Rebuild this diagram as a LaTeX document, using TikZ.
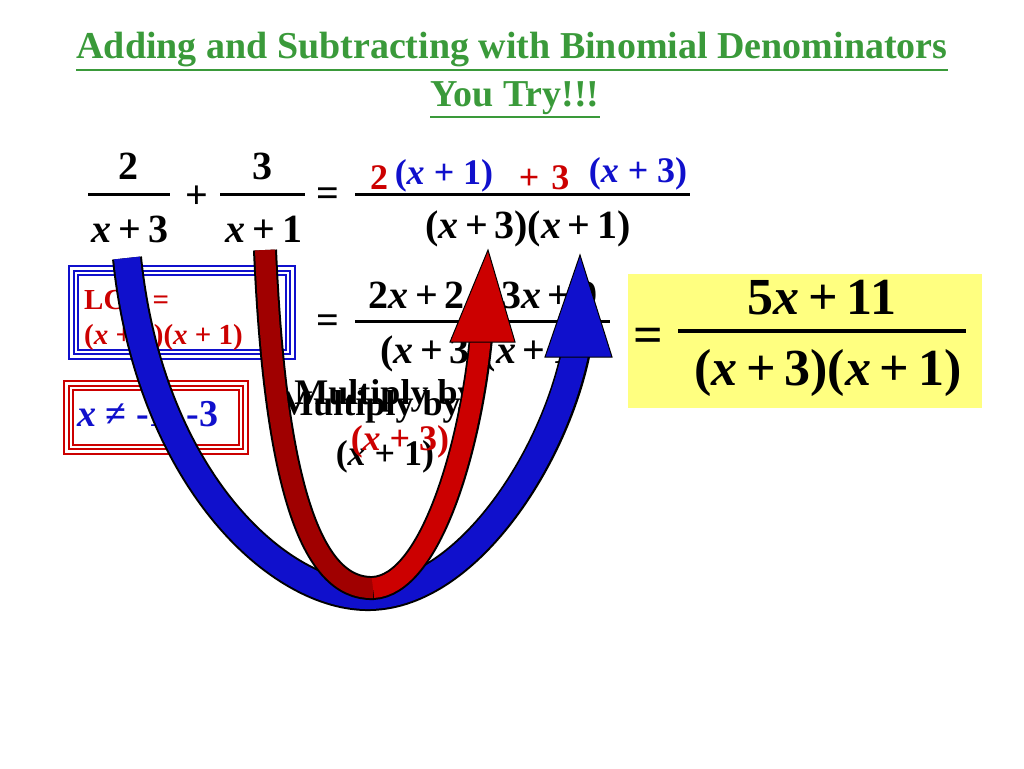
\documentclass[tikz,border=0pt]{standalone}
\usepackage{fontspec}
\setmainfont{Liberation Serif}
\definecolor{tgreen}{HTML}{3A9A3A}
\definecolor{dred}{HTML}{CC0000}
\definecolor{dblue}{HTML}{1010CC}
\definecolor{mar}{HTML}{A00000}
\definecolor{yel}{HTML}{FFFF80}
\begin{document}
\begin{tikzpicture}[x=1pt,y=-1pt,
  t/.style={font=\bfseries\fontsize{40}{44}\selectfont,inner sep=0},
  big/.style={font=\bfseries\fontsize{52}{56}\selectfont,inner sep=0},
  mid/.style={font=\bfseries\fontsize{36}{40}\selectfont,inner sep=0},
  bar/.style={line width=3pt},
  ttl/.style={font=\bfseries\fontsize{38}{42}\selectfont,text=tgreen,inner sep=0}]
\useasboundingbox (0,0) rectangle (1024,768);
\node[ttl] (t1) at (512,50) {Adding and Subtracting with Binomial Denominators};
\draw[tgreen,line width=2pt] (t1.south west) ++(0,2) -- ([yshift=-2pt]t1.south east);
\node[ttl] (t2) at (515,98) {You Try!!!};
\draw[tgreen,line width=2pt] (t2.south west) ++(0,2) -- ([yshift=-2pt]t2.south east);
% first fractions
\node[t] (n1) at (128,166) {2};
\draw[bar] (88,194) -- (170,194);
\node[t] (d1) at (130,229) {\textit{x}\,+\,3};
\node[t] (p1) at (197,197) {+};
\node[t] (n2) at (262,166) {3};
\draw[bar] (220,194) -- (305,194);
\node[t] (d2) at (264,229) {\textit{x}\,+\,1};
\node[t] (e1) at (328,197) {=};
\node[mid,text=dred] (c2) at (379,178) {2};
\node[mid,text=dblue] (c3) at (444,176) {(\textit{x} + 1)};
\node[mid,text=dred] (pl) at (544,178) {+\,\,3};
\node[mid,text=dblue] (c4) at (638,174) {(\textit{x} + 3)};
\draw[bar] (355,194) -- (690,194);
\node[t] (dd) at (528,229) {(\textit{x}\,+\,3)(\textit{x}\,+\,1)};
% second line
\node[t] (e2) at (328,324) {=};
\node[t] (n3) at (483,295) {2\textit{x}\,+\,2\,+\,3\textit{x}\,+\,9};
\draw[bar] (355,321) -- (610,321);
\node[t] (d3) at (483,354) {(\textit{x}\,+\,3)(\textit{x}\,+\,1)};
% answer box
\fill[yel] (628,274) rectangle (982,408);
\node[big] (e3) at (648,340) {=};
\node[big] (n4) at (822,298) {5\textit{x}\,+\,11};
\draw[line width=3.5pt] (678,331) -- (966,331);
\node[big] (d4) at (828,373) {(\textit{x}\,+\,3)(\textit{x}\,+\,1)};
% LCD box
\draw[dblue,line width=1.2pt] (69,266) rectangle (295,359);
\draw[dblue,line width=1.2pt] (74,271) rectangle (290,354);
\draw[dblue,line width=1.2pt] (78,275) rectangle (286,350);
\node[t,text=dred,font=\bfseries\fontsize{29}{32}\selectfont,anchor=west] (l1) at (84,300) {LCD =};
\node[t,text=dred,font=\bfseries\fontsize{29}{32}\selectfont,anchor=west] (l2) at (84,338) {(\textit{x} + 3)(\textit{x} + 1)};
\draw[dred,line width=1.2pt] (64,381) rectangle (248,454);
\draw[dred,line width=1.2pt] (69,386) rectangle (243,449);
\draw[dred,line width=1.2pt] (73,390) rectangle (239,445);
\node[t,text=dblue,font=\bfseries\fontsize{38}{42}\selectfont,anchor=west] (xn) at (77,417) {\textit{x} ≠ -1, -3};
% multiply texts
\node[mid] (m1) at (385,396) {Multiply by};
\node[mid] (m2) at (370,407) {Multiply by};
\node[mid] (m3) at (385,457) {(\textit{x} + 1)};
\node[mid,text=dred] (m4) at (400,442) {(\textit{x} + 3)};
% blue arrow
\draw[black,line width=30pt] (127,258) .. controls (150,480) and (280,598) .. (370,596) .. controls (470,594) and (560,450) .. (578,340);
\draw[dblue,line width=26pt] (127,258) .. controls (150,480) and (280,598) .. (370,596) .. controls (470,594) and (560,450) .. (578,338);
\filldraw[fill=dblue,draw=black,line width=1pt] (545,357) -- (580,255) -- (612,357) -- cycle;
% red arrow
\draw[black,line width=24pt] (265,250) .. controls (275,480) and (310,590) .. (373,588) .. controls (430,585) and (470,450) .. (481,338);
\draw[mar,line width=20pt] (265,250) .. controls (275,480) and (310,590) .. (373,588);
\draw[dred,line width=20pt] (373,588) .. controls (430,585) and (470,450) .. (481,336);
\filldraw[fill=dred,draw=black,line width=1pt] (450,342) -- (488,250) -- (515,342) -- cycle;
\end{tikzpicture}
\end{document}
